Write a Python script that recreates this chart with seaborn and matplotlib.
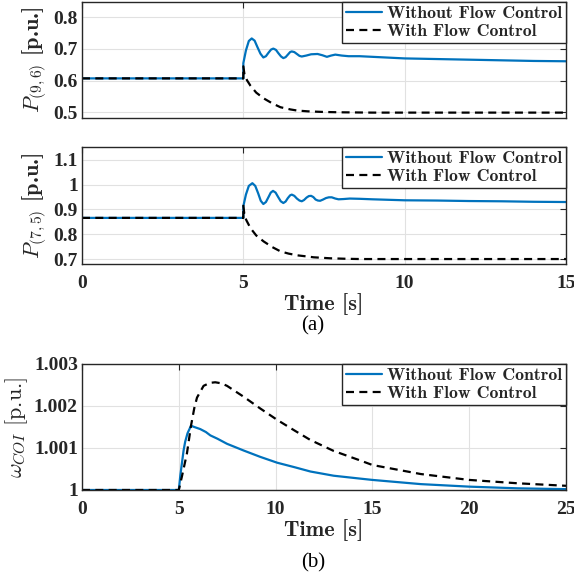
import numpy as np
import pandas as pd
import matplotlib
matplotlib.use("Agg")
import matplotlib.pyplot as plt
import seaborn as sns

# ---------------- data ----------------
# Panel (a) top: P(9,6)
t_p96_wo = [0, 5.0, 5.0, 5.08, 5.17, 5.26, 5.35, 5.44, 5.53, 5.62, 5.70, 5.78, 5.86, 5.93,
            6.01, 6.09, 6.17, 6.24, 6.31, 6.38, 6.45, 6.50, 6.58, 6.66, 6.74, 6.81, 6.95,
            7.10, 7.30, 7.45, 7.59, 7.72, 7.85, 8.05, 8.26, 8.6, 9.0, 10, 11, 12, 13, 14, 15]
p96_wo = [0.607, 0.607, 0.655, 0.695, 0.725, 0.733, 0.726, 0.705, 0.685, 0.673, 0.677, 0.688,
          0.698, 0.701, 0.697, 0.686, 0.676, 0.671, 0.674, 0.682, 0.690, 0.692, 0.690, 0.684,
          0.678, 0.676, 0.679, 0.683, 0.684, 0.680, 0.675, 0.679, 0.682, 0.679, 0.677, 0.677,
          0.675, 0.670, 0.668, 0.666, 0.664, 0.662, 0.661]
t_p96_w = [0, 5.0, 5.0, 5.04, 5.12, 5.22, 5.4, 5.63, 5.9, 6.15, 6.46, 6.67, 7.0, 7.5, 8.0, 9, 10, 15]
p96_w = [0.607, 0.607, 0.645, 0.616, 0.600, 0.584, 0.562, 0.544, 0.528, 0.516, 0.509, 0.5055,
         0.503, 0.501, 0.500, 0.499, 0.499, 0.499]

# Panel (a) bottom: P(7,5)
t_p75_wo = [0, 5.0, 5.0, 5.08, 5.17, 5.28, 5.37, 5.46, 5.54, 5.62, 5.70, 5.78, 5.85, 5.92,
            6.0, 6.08, 6.16, 6.24, 6.31, 6.38, 6.45, 6.50, 6.58, 6.66, 6.74, 6.81, 6.88,
            6.96, 7.03, 7.10, 7.17, 7.24, 7.31, 7.38, 7.47, 7.56, 7.65, 7.74, 7.85, 7.95,
            8.1, 8.3, 8.6, 9.0, 10, 11, 12, 13, 14, 15]
p75_wo = [0.866, 0.866, 0.913, 0.960, 0.995, 1.006, 0.995, 0.965, 0.935, 0.922, 0.930, 0.950,
          0.968, 0.975, 0.968, 0.950, 0.933, 0.926, 0.932, 0.946, 0.957, 0.960, 0.955, 0.944,
          0.936, 0.933, 0.938, 0.948, 0.954, 0.955, 0.950, 0.940, 0.936, 0.935, 0.940, 0.946,
          0.949, 0.949, 0.944, 0.941, 0.942, 0.944, 0.943, 0.941, 0.937, 0.936, 0.934, 0.933,
          0.931, 0.930]
t_p75_w = [0, 5.0, 5.0, 5.04, 5.1, 5.22, 5.4, 5.63, 5.9, 6.15, 6.4, 6.67, 7.0, 7.18, 7.7, 8.2,
           8.63, 10, 15]
p75_w = [0.866, 0.866, 0.915, 0.872, 0.855, 0.825, 0.795, 0.771, 0.748, 0.731, 0.722, 0.715,
         0.710, 0.707, 0.703, 0.701, 0.700, 0.700, 0.700]

# Panel (b): omega_COI  (deviation from 1, in 1e-3 p.u.)
t_w_wo = [0, 5.0, 5.08, 5.16, 5.25, 5.33, 5.45, 5.63, 5.8, 6.11, 6.4, 6.63, 7.0, 7.49, 8.35,
          9.2, 10.08, 11.0, 11.8, 13.0, 14.39, 15, 17.5, 20, 22.5, 25]
dw_wo = [0, 0, 0.35, 0.635, 0.95, 1.15, 1.35, 1.53, 1.50, 1.45, 1.38, 1.30, 1.22, 1.10, 0.94,
         0.79, 0.65, 0.54, 0.44, 0.34, 0.27, 0.24, 0.14, 0.08, 0.04, 0.02]
t_w_w = [0, 5.0, 5.16, 5.42, 5.63, 5.8, 5.94, 6.28, 6.6, 6.88, 7.2, 7.49, 8.35, 9.21, 10.08,
         11.0, 11.8, 13.0, 14.39, 15, 17.5, 20, 22.5, 25]
dw_w = [0, 0, 0.32, 0.87, 1.53, 1.95, 2.20, 2.48, 2.55, 2.565, 2.54, 2.48, 2.22, 1.94, 1.67,
        1.41, 1.19, 0.93, 0.70, 0.595, 0.38, 0.24, 0.16, 0.10]

labels = ["Without Flow Control", "With Flow Control"]
xt_a = [0, 5, 10, 15]
xt_b = [0, 5, 10, 15, 20, 25]
yt_1 = [0.5, 0.6, 0.7, 0.8]
yt_1_lbl = ["0.5", "0.6", "0.7", "0.8"]
yt_2 = [0.7, 0.8, 0.9, 1.0, 1.1]
yt_2_lbl = ["0.7", "0.8", "0.9", "1", "1.1"]
yt_3 = [1.0, 1.001, 1.002, 1.003]
yt_3_lbl = ["1", "1.001", "1.002", "1.003"]

# ---------------- style ----------------
sns.set_theme(style="white")
plt.rcParams["font.family"] = ["Liberation Serif", "DejaVu Serif"]
plt.rcParams["mathtext.fontset"] = "cm"
plt.rcParams["axes.unicode_minus"] = False

BLUE = "#0072BD"
DARK = "#262626"
GRID = "#e1e1e1"
DASH = (0, (3.6, 2.4))

W, H = 574, 583
fig = plt.figure(figsize=(W / 100, H / 100), dpi=100)


def rect(l, t, r, b):
    return [l / W, 1 - b / H, (r - l) / W, (b - t) / H]


ax1 = fig.add_axes(rect(82, 2, 566, 118))
ax2 = fig.add_axes(rect(82, 147, 566, 264))
ax3 = fig.add_axes(rect(82, 364, 566, 490))

tick_font = {"family": "Liberation Serif", "weight": "bold", "size": 14}


def draw(ax, t_wo, y_wo, t_w, y_w):
    df_wo = pd.DataFrame({"t": t_wo, "v": y_wo})
    df_w = pd.DataFrame({"t": t_w, "v": y_w})
    sns.lineplot(data=df_wo, x="t", y="v", ax=ax, color=BLUE, lw=1.6,
                 estimator=None, sort=False, label=labels[0])
    sns.lineplot(data=df_w, x="t", y="v", ax=ax, color="black", lw=1.6,
                 estimator=None, sort=False, linestyle=DASH, label=labels[1])


def style(ax, xt, yt, ytl, xlim, ylim, show_x):
    ax.set_xlim(*xlim)
    ax.set_ylim(*ylim)
    ax.set_xticks(xt)
    ax.set_yticks(yt)
    ax.set_yticklabels(ytl, fontdict=tick_font)
    if show_x:
        ax.set_xticklabels([str(v) for v in xt], fontdict=tick_font)
    else:
        ax.set_xticklabels([])
    ax.grid(True, color=GRID, lw=0.8)
    ax.set_axisbelow(True)
    for s in ax.spines.values():
        s.set_visible(True)
        s.set_color(DARK)
        s.set_linewidth(1.0)
    ax.tick_params(direction="in", length=4, width=0.8, color=DARK,
                   top=True, right=True, labelcolor=DARK)
    ax.tick_params(axis="x", pad=8)
    ax.tick_params(axis="y", pad=3)
    leg = ax.legend(loc="upper right", borderaxespad=0, frameon=True, fancybox=False,
                    framealpha=1, edgecolor=DARK, handlelength=2.0, handletextpad=0.3,
                    borderpad=0.22, labelspacing=0.15,
                    prop={"family": "cmb10", "size": 12.8})
    leg.get_frame().set_linewidth(1.0)
    ax.set_xlabel("")
    ax.set_ylabel("")


draw(ax1, t_p96_wo, p96_wo, t_p96_w, p96_w)
style(ax1, xt_a, yt_1, yt_1_lbl, (0, 15), (0.482, 0.848), False)
ax1.set_ylabel(r"$P_{(9,6)}$ [p.u.]", fontsize=16, family="cmb10", color=DARK, labelpad=3)

draw(ax2, t_p75_wo, p75_wo, t_p75_w, p75_w)
style(ax2, xt_a, yt_2, yt_2_lbl, (0, 15), (0.68, 1.152), True)
ax2.set_ylabel(r"$P_{(7,5)}$ [p.u.]", fontsize=16, family="cmb10", color=DARK, labelpad=3)
ax2.set_xlabel("Time [s]", fontdict={"family": "cmb10", "size": 16}, color=DARK, labelpad=1)

w_wo = [1 + d * 1e-3 for d in dw_wo]
w_w = [1 + d * 1e-3 for d in dw_w]
draw(ax3, t_w_wo, w_wo, t_w_w, w_w)
style(ax3, xt_b, yt_3, yt_3_lbl, (0, 25), (1.0, 1.003), True)
ax3.set_ylabel(r"$\omega_{COI}$ [p.u.]", fontsize=16, family="cmr10", color=DARK, labelpad=3)
ax3.set_xlabel("Time [s]", fontdict={"family": "cmb10", "size": 16}, color=DARK, labelpad=1)

fig.text(313 / W, 1 - 326 / H, "(a)", ha="center", va="center",
         family="Liberation Serif", fontsize=15, color="black")
fig.text(313 / W, 1 - 563 / H, "(b)", ha="center", va="center",
         family="Liberation Serif", fontsize=15, color="black")

fig.savefig("out.png", dpi=100)
